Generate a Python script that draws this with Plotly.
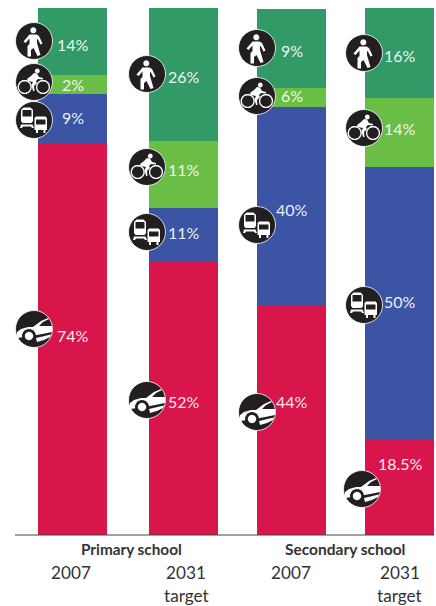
import math
import plotly.graph_objects as go

# ---------- data ----------
groups = ["Primary school", "Primary school", "Secondary school", "Secondary school"]
years = ["2007", "2031<br>target", "2007", "2031<br>target"]
car = [74.4, 52.0, 43.6, 18.2]
transit = [9.3, 10.1, 37.6, 51.6]
cycle = [3.6, 12.7, 3.6, 13.1]
walk = [12.7, 25.2, 15.0, 17.1]
car_labels = ["74%", "52%", "44%", "18.5%"]
transit_labels = ["9%", "11%", "40%", "50%"]
cycle_labels = ["2%", "11%", "6%", "14%"]
walk_labels = ["14%", "26%", "9%", "16%"]

# ---------- layout constants (pixels) ----------
W, H = 436, 606
BASE, TOP = 535, 8
U = (BASE - TOP) / 100
bar_x = [72.5, 183.5, 291.5, 399.5]
bar_w = 69
FONT = "Lato"
GREEN, LIME, BLUE, RED = "#329a67", "#6abd45", "#3c54a4", "#d9164b"

label_y = {
    "walk": [44, 76, 50, 55], "cycle": [84, 169, 95, 128],
    "transit": [117, 232, 209, 301], "car": [335, 401, 401, 463],
}
icon_pos = {
    "walk": [(34, 41), (147, 74), (257, 48), (364, 53)],
    "cycle": [(34, 82), (147, 167), (257, 96), (364, 128)],
    "transit": [(34, 120), (147, 232), (257, 225), (364, 305)],
    "car": [(34, 329), (147, 400), (257, 412), (362, 489)],
}

fig = go.Figure()
for name, vals, col in [("Car", car, RED), ("Transit", transit, BLUE),
                        ("Cycle", cycle, LIME), ("Walk", walk, GREEN)]:
    fig.add_bar(x=bar_x, y=vals, width=bar_w, marker=dict(color=col, line_width=0),
                name=name, showlegend=False, hoverinfo="skip")

ann = []
def txt(x, y, s, size=16, color="#ffffff", bold=False):
    ann.append(dict(x=x, y=y, xref="x", yref="y2", text=f"<b>{s}</b>" if bold else s,
                    showarrow=False, xanchor="center", yanchor="middle", align="center",
                    font=dict(family=FONT, size=size, color=color)))

for key, labs in [("walk", walk_labels), ("cycle", cycle_labels),
                  ("transit", transit_labels), ("car", car_labels)]:
    for i, s in enumerate(labs):
        txt(bar_x[i] + (1 if s == "18.5%" else 0), label_y[key][i], s, color="rgba(255,255,255,0.93)")

DARK = "#333335"
txt(131.5, 549, "Primary school", size=15.3, color=DARK, bold=True)
txt(344.5, 549, "Secondary school", size=15.5, color=DARK, bold=True)
for x, y, s in [(70.5, 572, "2007"), (186, 572, "2031"), (186, 595, "target"),
                (291, 572, "2007"), (399.5, 572, "2031"), (399.5, 595, "target")]:
    txt(x, y, s, size=17.2, color=DARK)

# icon glyphs: polygons in local pixel units around the circle centre
def circ(cx, cy, r, n=28):
    return [(cx + r * math.cos(2 * math.pi * k / n), cy + r * math.sin(2 * math.pi * k / n)) for k in range(n)]

GLYPH = {
    "walk": [
        (circ(-0.7, -10.7, 3), "w"),
        ([(-4.5, -6.5), (2.5, -6.5), (5, -5), (8.5, 2.5), (6.5, 3.5), (4, -1.5), (3, -2), (3, 2), (6.5, 14),
          (3.5, 15), (-0.5, 7), (-3, 9), (-3, 15.5), (-6.5, 15.5), (-6.5, 5), (-4.5, 3), (-4.5, -2.5),
          (-8.5, 2), (-10.5, 0.5)], "w"),
    ],
    "cycle": [
        (circ(-9.3, 5, 6.4), "o"), (circ(9, 5, 6.4), "o"),
        (circ(3.3, -11, 2.4), "w"),
        ([(0, -9), (3, -8.5), (5, -5), (9, -4), (9, -2.5), (4, -3), (2, -1), (3, 1), (0, 4), (0.5, 9),
          (-1, 9), (-2.5, 3), (-1, 0), (-6, -1), (-7, -3), (-3, -6)], "w"),
    ],
    "transit": [
        ([(-13, -10), (-10.5, -12.5), (-3.5, -12.5), (-1, -10), (-1, 1), (-2.5, 3), (-11.5, 3), (-13, 1)], "w"),
        ([(-11.5, -10), (-2.5, -10), (-2.5, -3.5), (-11.5, -3.5)], "k"),
        ([(-13, 4.5), (-1.5, 4.5), (0, 8), (-2, 8), (-3, 6.5), (-11, 6.5), (-12, 8), (-14, 8)], "w"),
        ([(0.5, -2), (2, -3.5), (11.5, -3.5), (13, -2), (13, 10), (11.5, 10), (11.5, 13), (9.5, 13), (9.5, 10),
          (4, 10), (4, 13), (2, 13), (2, 10), (0.5, 10)], "w"),
        ([(2, -0.5), (11.5, -0.5), (11.5, 4.5), (2, 4.5)], "k"),
    ],
    "car": [
        ([(-17, 3), (-13, 0), (-6, -2), (-1, -2), (7, -8), (14, -11), (15, -10), (9, -7), (5, -3), (18, -3),
          (18, 3), (-2, 7), (-17, 9)], "w"),
        (circ(-5, 7, 7), "k"), (circ(-5, 7, 4.2), "w"),
        ([(2, 9), (17, 5.5), (16, 8), (10, 11), (3, 13)], "w"),
    ],
}

def path_at(pts, cx, cy):
    return "M" + " L".join(f"{a + cx:.2f},{b + cy:.2f}" for a, b in pts) + " Z"

shapes = []
for key, spots in icon_pos.items():
    for cx, cy in spots:
        shapes.append(dict(type="circle", xref="x", yref="y2", x0=cx-18.5, x1=cx+18.5, y0=cy-18.5, y1=cy+18.5,
                           fillcolor="#231f20", line=dict(color="#ffffff", width=0.8)))
        for pts, st in GLYPH[key]:
            d = path_at(pts, cx, cy)
            base = dict(type="path", path=d, xref="x", yref="y2")
            if st == "w":
                shapes.append(dict(base, fillcolor="#ffffff", line_width=0))
            elif st == "k":
                shapes.append(dict(base, fillcolor="#231f20", line_width=0))
            else:
                shapes.append(dict(base, fillcolor="rgba(0,0,0,0)", line=dict(color="#ffffff", width=1.4)))

shapes.append(dict(type="line", xref="x", yref="y2", x0=15, x1=434, y0=BASE, y1=BASE,
                   line=dict(color="#444446", width=1.2)))

fig.update_layout(
    width=W, height=H, margin=dict(l=0, r=0, t=0, b=0), autosize=False,
    paper_bgcolor="white", plot_bgcolor="white", barmode="stack", bargap=0,
    xaxis=dict(range=[0, W], visible=False, fixedrange=True),
    yaxis=dict(range=[(BASE - H) / U, BASE / U], visible=False, fixedrange=True),
    yaxis2=dict(range=[H, 0], overlaying="y", visible=False, fixedrange=True),
    shapes=shapes, annotations=ann,
)
fig.add_scatter(x=[None], y=[None], yaxis="y2", showlegend=False)
fig.write_html("out.html", config={"displayModeBar": False},
               post_script="document.body.style.margin='0';document.body.style.overflow='hidden';")
